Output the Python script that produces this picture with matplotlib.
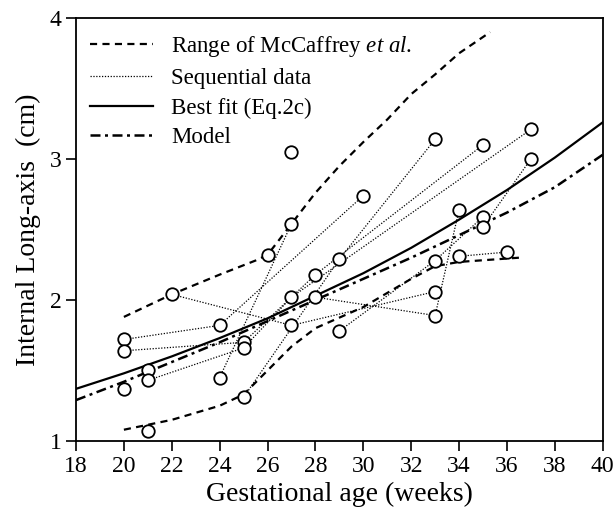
import matplotlib
matplotlib.use("Agg")
import matplotlib.pyplot as plt

plt.rcParams['font.family'] = ['Liberation Serif', 'DejaVu Serif']
plt.rcParams['mathtext.fontset'] = 'custom'
plt.rcParams['mathtext.rm'] = 'Liberation Serif'
plt.rcParams['mathtext.it'] = 'Liberation Serif:italic'

# McCaffrey et al. range (upper and lower bounds)
upper_x = [20, 22, 24, 25.5, 26, 27, 28, 29, 30, 31, 32, 33, 34, 35.3]
upper_y = [1.88, 2.04, 2.18, 2.28, 2.32, 2.54, 2.76, 2.95, 3.12, 3.28, 3.46, 3.6, 3.75, 3.9]
lower_x = [20, 22, 24, 25, 26, 27, 28, 30, 32, 33, 34, 36.5]
lower_y = [1.08, 1.15, 1.25, 1.33, 1.5, 1.67, 1.8, 1.95, 2.15, 2.24, 2.27, 2.3]

# best fit (Eq.2c) and model curves
fit_x = [18, 20, 22, 24, 26, 28, 30, 32, 34, 36, 38, 40]
fit_y = [1.37, 1.48, 1.6, 1.73, 1.87, 2.03, 2.19, 2.37, 2.57, 2.78, 3.01, 3.26]
model_y = [1.29, 1.42, 1.56, 1.7, 1.85, 2.0, 2.15, 2.3, 2.46, 2.62, 2.8, 3.03]

# all measured points
weeks = [20, 20, 20, 21, 21, 21, 22, 24, 24, 25, 25, 25, 26, 27, 27, 27, 27,
         28, 28, 29, 29, 30, 33, 33, 33, 33, 34, 34, 35, 35, 35, 36, 37, 37]
length = [1.72, 1.64, 1.37, 1.5, 1.43, 1.07, 2.04, 1.82, 1.45, 1.7, 1.66, 1.31, 2.32,
          3.05, 2.54, 2.02, 1.82, 2.18, 2.02, 2.29, 1.78, 2.74, 3.14, 2.28, 2.06,
          1.89, 2.64, 2.31, 3.1, 2.59, 2.52, 2.34, 3.21, 3.0]

# sequential scans of the same subject
seq_x = [
    [20, 24, 30],
    [20, 25, 28, 35],
    [21, 25, 27, 37],
    [25, 29, 33],
    [22, 27, 33],
    [24, 27],
    [28, 33, 34],
    [29, 33, 35],
    [34, 36],
    [35, 37],
]
seq_y = [
    [1.72, 1.82, 2.74],
    [1.64, 1.70, 2.18, 3.10],
    [1.43, 1.66, 2.02, 3.21],
    [1.31, 2.29, 3.14],
    [2.04, 1.82, 2.06],
    [1.45, 2.54],
    [2.02, 1.89, 2.64],
    [1.78, 2.28, 2.59],
    [2.31, 2.34],
    [2.52, 3.00],
]

fig = plt.figure(figsize=(6.15, 5.15), dpi=100)
ax = fig.add_axes([0.1236, 0.1437, 0.8564, 0.8213])

dash = (0, (3.2, 2.4))
ax.plot(upper_x, upper_y, color='black', ls=dash, lw=1.6,
        label='Range of McCaffrey $\\it{et\\ al.}$')
ax.plot(lower_x, lower_y, color='black', ls=dash, lw=1.6)
for i, (sx, sy) in enumerate(zip(seq_x, seq_y)):
    ax.plot(sx, sy, color='black', ls=(0, (1, 1.3)), lw=0.9,
            label='Sequential data' if i == 0 else None)
ax.plot(fit_x, fit_y, color='black', lw=1.6, label='Best fit (Eq.2c)')
ax.plot(fit_x, model_y, color='black', ls=(0, (4, 1.8, 1.2, 1.8)), lw=1.8, label='Model')
ax.plot(weeks, length, ls='none', marker='o', ms=9, mfc='white', mec='black', mew=1.3)

ax.set_xlim(18, 40)
ax.set_ylim(1, 4)
ax.set_xticks(range(18, 41, 2))
ax.set_yticks([1, 2, 3, 4])
ax.tick_params(direction='out', length=7, width=1.2, labelsize=17, top=False, right=False)
for s in ax.spines.values():
    s.set_linewidth(1.3)
ax.set_xlabel('Gestational age (weeks)', fontsize=20, labelpad=4)
ax.set_ylabel('Internal Long-axis  (cm)', fontsize=20, labelpad=6)

ax.legend(loc='upper left', frameon=False, fontsize=16.5, handlelength=2.75,
          handletextpad=0.8, labelspacing=0.38, borderaxespad=0.2,
          bbox_to_anchor=(0.0, 0.995))

fig.savefig('out.png', dpi=100)
